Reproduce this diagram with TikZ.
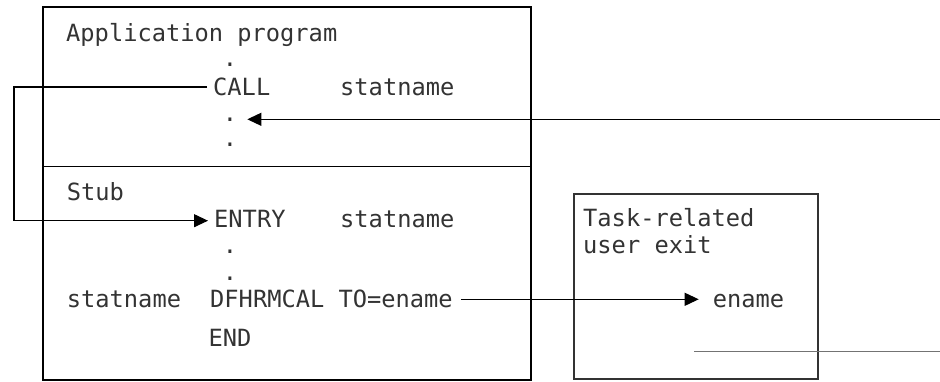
\documentclass[tikz,border=0pt]{standalone}
\usepackage{fontspec}
\usetikzlibrary{arrows.meta}
\newfontfamily\codefont{DejaVu Sans Mono}

\begin{document}
\begin{tikzpicture}[x=1pt, y=-1pt]
  \useasboundingbox (0, 0) rectangle (940, 381);  % Rand wie im Original.
  \tikzstyle{code}=[font=\codefont\fontsize{23.7}{26.5}\selectfont, text=black!80, inner sep=0pt, text height=16pt, text depth=0pt, anchor=base west]
  \tikzstyle{dot}=[code, anchor=base]
  \tikzstyle{frame}=[draw, line width=1.1pt]
  \tikzstyle{conn}=[draw, line width=1.1pt]
  \tikzstyle{arrow}=[conn, -{Triangle[length=14pt, width=13pt]}]

  % Kaesten
  \draw[frame] (43, 7) rectangle (531, 380);
  \draw[frame] (43, 166.7) -- (531, 166.7);
  \draw[frame, draw=black!80] (574, 194) rectangle (818, 379);

  % Anwendungsprogramm
  \node[code] (app)   at (66, 41.7)   {Application program};
  \node[dot]  (d1)    at (230, 66.7)  {.};
  \node[code] (call)  at (213, 95)    {CALL};
  \node[code] (name1) at (340, 95)    {statname};
  \node[dot]  (d2)    at (230, 121)   {.};
  \node[dot]  (d3)    at (230, 146.7) {.};

  % Stub
  \node[code] (stub)  at (66.7, 200.7)  {Stub};
  \node[code] (entry) at (214, 227.3)   {ENTRY};
  \node[code] (name2) at (340, 227.3)   {statname};
  \node[dot]  (d4)    at (230, 253.4)   {.};
  \node[dot]  (d5)    at (230, 280.7)   {.};
  \node[code] (lbl)   at (66.7, 307.3)  {statname};
  \node[code] (rmcal) at (210, 307.3)   {DFHRMCAL TO=ename};
  \node[code] (end)   at (208.3, 346.7) {END};

  % Task-related user exit
  \node[code] (task1) at (583, 226.7) {Task-related};
  \node[code] (task2) at (583, 253)   {user exit};
  \node[code] (ename) at (712.7, 307.3) {ename};

  \coordinate (back) at (940, 119.3);
  \coordinate (out1) at (694, 351.7);
  \coordinate (out2) at (940, 351.7);

  \path[conn] (call.west) ++(-6, 0) -| (14, 220.7) coordinate (turn);
  \path[arrow, shorten >=6pt] (turn) -- (turn -| entry.west);
  \path[arrow] (back) -- ([xshift=10pt]d2.east |- back);
  \path[arrow, shorten <=8pt, shorten >=14pt] (rmcal.east) -- (ename.west);
  \path[conn, draw=black!55] (out1) -- (out2);
\end{tikzpicture}
\end{document}
